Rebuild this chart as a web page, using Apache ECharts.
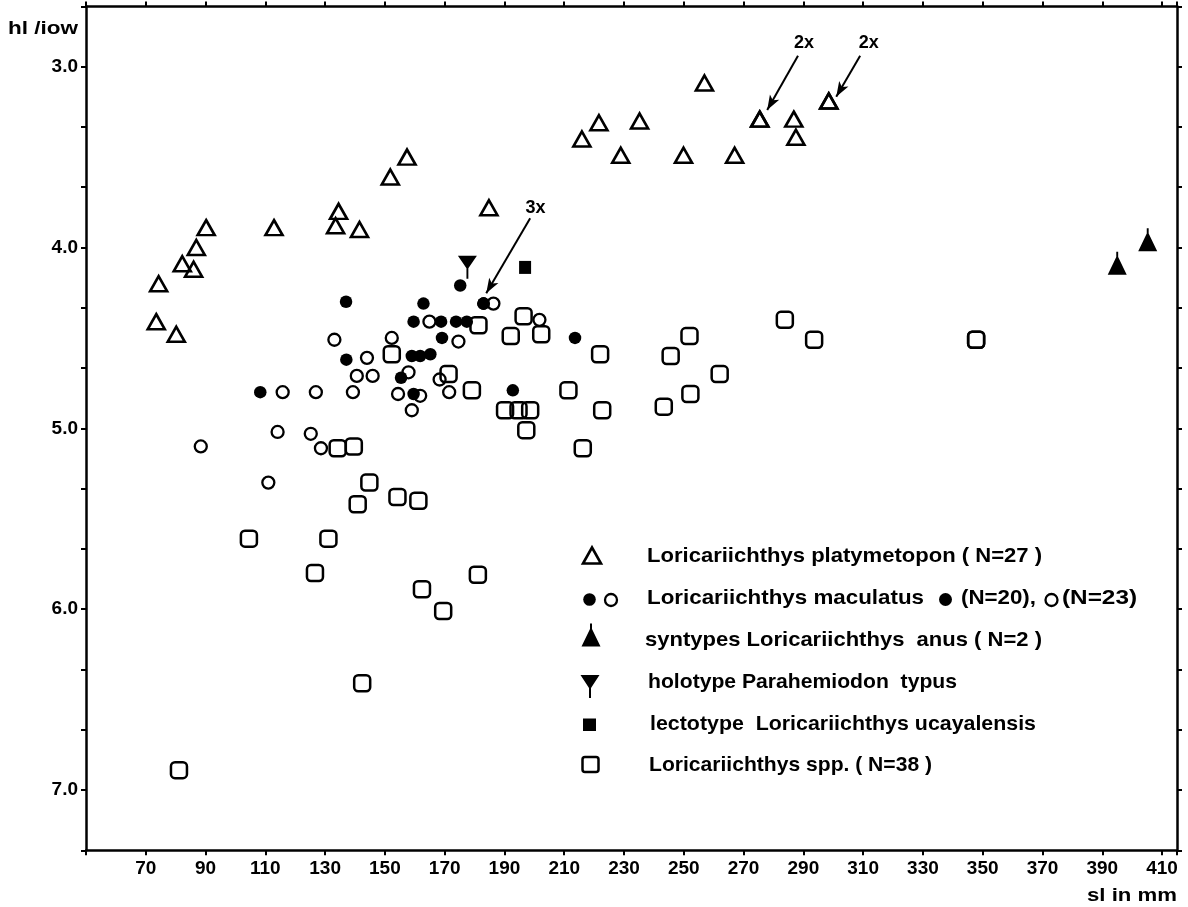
<!DOCTYPE html>
<html><head><meta charset="utf-8">
<script src="https://cdn.jsdelivr.net/npm/echarts@6/dist/echarts.min.js"></script>
<style>html,body{margin:0;padding:0;background:#fff}#c{width:1188px;height:907px}</style>
</head><body><div id="c"></div>
<script>
// ---- tick labels ----
const xTickLabels = ['70','90','110','130','150','170','190','210','230','250','270','290','310','330','350','370','390','410'];
const yTickLabels = ['3.0','4.0','5.0','6.0','7.0'];

// ---- data: [sl in mm, hl/iow] ----
const platymetopon = [[74.3,4.20],[82.2,4.09],[86.0,4.12],[86.9,4.00],[90.2,3.89],[112.9,3.89],[134.5,3.80],[133.5,3.88],[141.5,3.90],[151.8,3.61],[157.4,3.50],[184.8,3.78],[73.5,4.41],[80.2,4.48],[256.9,3.09],[221.6,3.31],[235.2,3.30],[215.9,3.40],[228.9,3.49],[249.9,3.49],[267.0,3.49],[275.4,3.29],[275.4,3.29],[286.8,3.29],[287.5,3.39],[298.5,3.19],[298.5,3.19]];
const maculatusFilled = [[137.0,4.30],[137.1,4.62],[108.3,4.80],[155.4,4.72],[175.2,4.21],[183.0,4.31],[183.0,4.31],[183.0,4.31],[162.9,4.31],[159.6,4.41],[168.8,4.41],[173.8,4.41],[177.4,4.41],[169.1,4.50],[213.6,4.50],[159.0,4.60],[161.8,4.60],[165.2,4.59],[159.6,4.81],[192.8,4.79]];
const maculatusOpen = [[133.1,4.51],[152.3,4.50],[144.0,4.61],[140.6,4.71],[145.9,4.71],[115.8,4.80],[126.9,4.80],[139.3,4.80],[154.4,4.81],[114.1,5.02],[125.2,5.03],[128.6,5.11],[88.4,5.10],[111.0,5.30],[186.3,4.31],[164.9,4.41],[201.7,4.40],[174.6,4.52],[157.9,4.69],[168.3,4.73],[161.8,4.82],[171.5,4.80],[159.0,4.90]];
const anusSyntypes = [[395.0,4.10],[405.2,3.97]];
const holotypeParahemiodon = [[177.6,4.08]];
const lectotypeUcayalensis = [[196.9,4.11]];
const sppLoricariichthys = [[152.3,4.59],[134.2,5.11],[139.6,5.10],[181.3,4.43],[196.4,4.38],[192.1,4.49],[202.3,4.48],[222.0,4.59],[245.6,4.60],[171.3,4.70],[179.1,4.79],[190.2,4.90],[194.7,4.90],[198.6,4.90],[197.3,5.01],[211.4,4.79],[222.7,4.90],[243.3,4.88],[216.2,5.11],[104.5,5.61],[81.1,6.89],[144.8,5.30],[140.9,5.42],[154.2,5.38],[161.2,5.40],[131.1,5.61],[126.6,5.80],[181.1,5.81],[162.4,5.89],[169.5,6.01],[142.4,6.41],[283.8,4.40],[293.6,4.51],[347.8,4.51],[347.8,4.51],[251.9,4.49],[262.0,4.70],[252.2,4.81]];

// ---- annotations (data units) ----
const arrowSegments = [[[288.2,2.939],[277.9,3.240]],[[309.0,2.939],[301.0,3.166]],[[198.6,3.838],[183.9,4.253]]];
const arrowLabels = [['2x',290.2,2.871],['2x',311.9,2.871],['3x',200.4,3.783]];

// ---- legend texts ----
const legendTexts = ['Loricariichthys platymetopon ( N=27 )','Loricariichthys maculatus','(N=20),','(N=23)','syntypes Loricariichthys  anus ( N=2 )','holotype Parahemiodon  typus','lectotype  Loricariichthys ucayalensis','Loricariichthys spp. ( N=38 )'];

const FONT = '"Liberation Sans", Arial, sans-serif';
const BLACK = '#000';
const chart = echarts.init(document.getElementById('c'), null, {renderer:'canvas'});

const mctx = document.createElement('canvas').getContext('2d');
function fitText(str, x, yMid, targetW, size) {
  mctx.font = 'bold ' + size + 'px ' + FONT;
  const w = mctx.measureText(str).width;
  return {type:'text', x:x, y:yMid, scaleX: targetW / w, silent:true,
    style:{text:str, fill:BLACK, fontSize:size, fontWeight:'bold', fontFamily:FONT, align:'left', verticalAlign:'middle'}};
}

const anusPath = 'path://M9,0 L11,0 L11,5.5 L20,24 L0,24 L9,5.5 Z';
const holoPath = 'path://M0,0 L20,0 L11,13 L11,24 L9,24 L9,13 Z';

const xBase = {type:'value', min:50, max:415, interval:20,
  axisLine:{show:true, onZero:false, lineStyle:{color:BLACK, width:2.5}},
  axisTick:{show:true, inside:false, length:5, lineStyle:{color:BLACK, width:2}},
  splitLine:{show:false}};
const yBase = {type:'value', inverse:true, min:8/3, max:22/3, interval:1/3,
  axisLine:{show:true, onZero:false, lineStyle:{color:BLACK, width:2.5}},
  axisTick:{show:true, inside:false, length:5, lineStyle:{color:BLACK, width:2}},
  splitLine:{show:false}};

const labelStyle = {color:BLACK, fontSize:19, fontWeight:'bold', fontFamily:FONT};
const hollow = {color:'rgba(0,0,0,0)', borderColor:BLACK, opacity:1};
const solid = {color:BLACK, opacity:1};

const option = {
  animation:false,
  backgroundColor:'#fff',
  grid:{left:86, right:11, top:6.4, bottom:56.7, containLabel:false},
  xAxis:[
    Object.assign({}, xBase, {position:'bottom',
      axisLabel:Object.assign({show:true, margin:9, formatter:function(v){const s=String(Math.round(v)); return (Math.abs(v-Math.round(v))<1e-6 && xTickLabels.indexOf(s)>=0)?s:'';}}, labelStyle)}),
    Object.assign({}, xBase, {position:'top', axisLabel:{show:false}})
  ],
  yAxis:[
    Object.assign({}, yBase, {position:'left',
      axisLabel:Object.assign({show:true, margin:8, formatter:function(v){const r=Math.round(v); if(Math.abs(v-r)>1e-6) return ''; const l=yTickLabels.find(t=>Number(t)===r); return l||'';}}, labelStyle)}),
    Object.assign({}, yBase, {position:'right', axisLabel:{show:false}})
  ],
  series:[
    {name:'Loricariichthys spp.', type:'scatter', data:sppLoricariichthys, symbol:'roundRect', symbolSize:16,
      itemStyle:Object.assign({borderWidth:2.5}, hollow), z:2},
    {name:'L. maculatus (open)', type:'scatter', data:maculatusOpen, symbol:'circle', symbolSize:12,
      itemStyle:Object.assign({borderWidth:2.3}, hollow), z:3},
    {name:'L. maculatus (filled)', type:'scatter', data:maculatusFilled, symbol:'circle', symbolSize:12.5,
      itemStyle:solid, z:4},
    {name:'Loricariichthys platymetopon', type:'scatter', data:platymetopon, symbol:'triangle', symbolSize:[17,15],
      itemStyle:Object.assign({borderWidth:2.6}, hollow), z:3},
    {name:'syntypes Loricariichthys anus', type:'scatter', data:anusSyntypes, symbol:anusPath, symbolSize:[19,23], symbolOffset:[0,'-10%'],
      itemStyle:solid, z:4},
    {name:'holotype Parahemiodon typus', type:'scatter', data:holotypeParahemiodon, symbol:holoPath, symbolSize:[19,23], symbolOffset:[0,'23%'],
      itemStyle:solid, z:4},
    {name:'lectotype Loricariichthys ucayalensis', type:'scatter', data:lectotypeUcayalensis, symbol:'rect', symbolSize:[12,13],
      itemStyle:solid, z:4},
    {name:'annotations', type:'scatter', data:[], silent:true, z:5,
      markLine:{silent:true, symbol:['none','arrow'], symbolSize:[8,15], precision:3,
        lineStyle:{color:BLACK, width:2, type:'solid', opacity:1}, itemStyle:{color:BLACK}, label:{show:false},
        data: arrowSegments.map(s=>[{coord:s[0]},{coord:s[1]}])},
      markPoint:{silent:true, symbol:'circle', symbolSize:1, itemStyle:{color:'rgba(0,0,0,0)'},
        label:{show:true, position:'inside', formatter:p=>p.name, color:BLACK, fontSize:18, fontWeight:'bold', fontFamily:FONT},
        data: arrowLabels.map(a=>({name:a[0], coord:[a[1],a[2]]}))}
    }
  ],
  graphic:[
    fitText('hl /iow', 8, 29, 70, 18),
    fitText('sl in mm', 1087, 896, 90, 19),
    // legend symbols
    {type:'polygon', silent:true, shape:{points:[[583,563.5],[601,563.5],[592,547.5]]}, style:{fill:'none', stroke:BLACK, lineWidth:2.6, lineJoin:'miter'}},
    {type:'circle', silent:true, shape:{cx:589.5, cy:599.5, r:6.3}, style:{fill:BLACK}},
    {type:'circle', silent:true, shape:{cx:611, cy:600, r:6}, style:{fill:'none', stroke:BLACK, lineWidth:2.3}},
    {type:'polygon', silent:true, shape:{points:[[590,623.5],[592,623.5],[592,629],[600.5,646.5],[581.5,646.5],[590,629]]}, style:{fill:BLACK}},
    {type:'polygon', silent:true, shape:{points:[[580.5,675],[599.5,675],[591,688],[591,698],[589,698],[589,688]]}, style:{fill:BLACK}},
    {type:'rect', silent:true, shape:{x:583, y:718.5, width:13, height:12.5}, style:{fill:BLACK}},
    {type:'rect', silent:true, shape:{x:582.5, y:757, width:16, height:15, r:2.5}, style:{fill:'none', stroke:BLACK, lineWidth:2.5}},
    {type:'circle', silent:true, shape:{cx:945.5, cy:599.5, r:6.5}, style:{fill:BLACK}},
    {type:'circle', silent:true, shape:{cx:1051.5, cy:600, r:6}, style:{fill:'none', stroke:BLACK, lineWidth:2.3}},
    // legend texts
    fitText(legendTexts[0], 647, 556.7, 395, 21),
    fitText(legendTexts[1], 647, 598.5, 277, 21),
    fitText(legendTexts[2], 961, 598.5, 75, 21),
    fitText(legendTexts[3], 1062, 598.5, 75, 21),
    fitText(legendTexts[4], 645, 640, 397, 21),
    fitText(legendTexts[5], 648, 682, 309, 21),
    fitText(legendTexts[6], 650, 724, 386, 21),
    fitText(legendTexts[7], 649, 765.5, 283, 21)
  ]
};
chart.setOption(option);
</script>
</body></html>
